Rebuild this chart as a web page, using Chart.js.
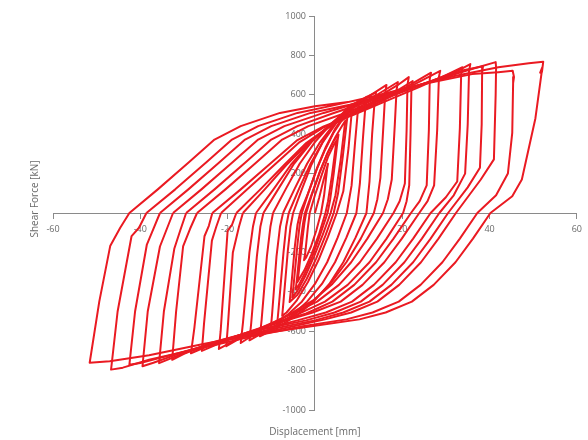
<!DOCTYPE html>
<html>
<head>
<meta charset="utf-8">
<script src="https://cdn.jsdelivr.net/npm/chart.js@4.4.1/dist/chart.umd.min.js"></script>
<style>
  html, body { margin: 0; padding: 0; background: #ffffff; }
  #wrap { width: 588px; height: 440px; }
</style>
</head>
<body>
<div id="wrap"><canvas id="chart" width="588" height="440"></canvas></div>
<script>
// Cyclic test record: displacement [mm], shear force [kN], one array per cycle.
const cycle01 = [[0,0],[1.0,80],[2.0,170],[2.8,235],[3.0,250],[2.8,225],[2.1,90],[1.4,0],[0.3,-90],[-0.9,-170],[-2.0,-225],[-2.5,-240],[-2.2,-200],[-1.6,-70],[-1.2,0]];
const cycle02 = [[-1.2,0],[0,90],[1.5,190],[3.0,285],[4.3,345],[5.0,370],[4.8,345],[3.9,190],[3.0,60],[2.4,0],[0.9,-110],[-0.8,-210],[-2.4,-290],[-3.6,-335],[-4.0,-350],[-3.7,-300],[-2.8,-120],[-2.4,-50],[-2.0,0]];
const cycle03 = [[-2.0,0],[-0.6,100],[1.0,200],[2.8,300],[4.4,370],[5.4,398],[5.2,370],[4.3,200],[3.5,70],[2.9,0],[1.2,-110],[-0.6,-220],[-2.4,-310],[-3.8,-370],[-4.4,-388],[-4.1,-330],[-3.2,-130],[-2.7,-50],[-2.3,0]];
const cycle04 = [[-2.3,0],[-0.5,110],[1.2,215],[3,310],[4.8,390],[6.3,445],[7.0,470],[6.8,440],[5.9,270],[4.7,90],[3.6,0],[1.8,-110],[-0.2,-220],[-2.2,-320],[-4.0,-395],[-5.2,-430],[-4.9,-370],[-4.0,-160],[-3.5,-60],[-3.0,0]];
const cycle05 = [[-3.0,0],[-1.4,110],[0.4,220],[2.3,320],[4.2,405],[6.0,465],[7.5,495],[7.3,465],[6.4,290],[5.3,100],[4.3,0],[2.4,-115],[0.3,-230],[-1.9,-335],[-4.0,-415],[-5.8,-452],[-5.5,-390],[-4.6,-170],[-4.0,-60],[-3.4,0]];
const cycle06 = [[-3.4,0],[-1.3,115],[0.5,230],[2.5,335],[4.7,430],[7,505],[8.7,540],[8.4,505],[7.7,330],[6.5,110],[5.0,0],[3,-120],[0.8,-240],[-1.6,-350],[-4.2,-445],[-6.5,-505],[-7.5,-522],[-7.2,-450],[-6.2,-190],[-5.6,-70],[-5.0,0]];
const cycle07 = [[-5.0,0],[-3.0,120],[-0.8,245],[1.8,360],[4.5,460],[7.5,535],[10.2,570],[9.9,535],[9.2,360],[8.4,140],[7.3,0],[5.2,-125],[2.8,-250],[0,-360],[-3,-450],[-6.2,-515],[-8.6,-552],[-8.3,-480],[-7.2,-200],[-6.6,-70],[-6.0,0]];
const cycle08 = [[-6.0,0],[-3.6,125],[-1.0,250],[1.8,360],[5,460],[8.5,545],[11.9,590],[11.6,555],[11.0,380],[10.3,150],[9.5,0],[7.2,-125],[4.6,-250],[1.6,-360],[-1.8,-450],[-5.6,-525],[-8.6,-570],[-10.1,-586],[-9.8,-510],[-8.8,-220],[-8.0,-70],[-7.3,0]];
const cycle09 = [[-7.3,0],[-4.6,125],[-1.8,250],[1.2,360],[4.5,455],[8.2,535],[11.5,585],[14.0,612],[13.7,575],[13.1,400],[12.5,160],[11.8,0],[9.3,-125],[6.5,-250],[3.3,-360],[-0.3,-450],[-4.5,-525],[-9,-585],[-12.6,-626],[-12.2,-540],[-11.0,-220],[-10.2,-70],[-9.6,0]];
const cycle10 = [[-9.6,0],[-6.6,125],[-3.5,250],[0,360],[3.8,455],[8,535],[12.5,595],[16.4,650],[16.1,610],[15.7,450],[15.0,180],[14.3,70],[13.5,0],[10.5,-130],[7.2,-250],[3.5,-360],[-0.5,-450],[-5,-520],[-10.5,-590],[-15.0,-646],[-14.6,-560],[-13.3,-220],[-12.5,-70],[-11.8,0]];
const cycle11 = [[-11.8,0],[-8.3,125],[-4.8,250],[-0.8,360],[3.5,450],[8.5,530],[13.5,590],[19.0,665],[18.7,625],[18.3,450],[17.6,170],[16.7,70],[15.6,0],[12,-130],[8.3,-250],[4,-360],[-0.5,-445],[-5.5,-510],[-11,-575],[-17.0,-660],[-16.5,-560],[-15,-200],[-14.2,-70],[-13.5,0]];
const cycle12 = [[-13.5,0],[-9.5,120],[-5.5,245],[-1.2,355],[3.5,445],[9,525],[14.5,590],[19,650],[21.5,690],[21.2,650],[21.0,420],[20.6,150],[19.4,60],[18.0,0],[14.2,-130],[10.3,-250],[5.5,-365],[0.5,-450],[-5.5,-515],[-12,-580],[-17.5,-640],[-20.3,-676],[-19.9,-560],[-18.8,-200],[-17.4,-70],[-16.5,0]];
const cycle13 = [[-16.5,0],[-11.5,120],[-6.5,245],[-1.5,355],[3.5,440],[9,515],[15,585],[19.5,630],[22.4,670],[22.1,630],[21.9,400],[21.6,140],[21.0,60],[20.2,0],[16.4,-130],[12.5,-250],[7.5,-365],[2.3,-450],[-4,-515],[-11,-575],[-17,-630],[-22.0,-690],[-21.6,-600],[-20.0,-90],[-19.0,-60],[-18.0,0]];
const cycle14 = [[-18.0,0],[-12.5,120],[-7,245],[-2,355],[3,435],[9,510],[15,575],[21,640],[26.6,712],[26.3,680],[26.1,420],[25.6,140],[24.0,60],[22.0,0],[18,-130],[14,-250],[9,-365],[4,-450],[-2,-510],[-10,-565],[-18,-625],[-25.9,-700],[-25.4,-560],[-23.6,-140],[-22.6,-70],[-21.5,0]];
const cycle15 = [[-21.5,0],[-15.5,120],[-9,250],[-3.5,360],[2,435],[9,505],[16,575],[23,655],[28.7,722],[28.4,690],[28.0,420],[27.3,140],[25.8,60],[23.9,0],[19.9,-130],[15.9,-250],[10.9,-365],[5.9,-450],[-0.5,-505],[-8,-555],[-16,-610],[-24,-670],[-28.4,-712],[-27.6,-580],[-25.3,-118],[-24.3,-65],[-23.5,0]];
const cycle16 = [[-23.5,0],[-17,120],[-10,255],[-4,370],[2,440],[9,500],[16,565],[24,640],[30,700],[33.8,740],[33.5,705],[33.2,430],[32.6,160],[30,80],[26.5,0],[22.5,-130],[18.5,-250],[13.5,-365],[8.5,-450],[2.5,-505],[-4,-545],[-14,-600],[-24,-660],[-30,-715],[-32.7,-745],[-31.8,-500],[-30.2,-170],[-28.6,-80],[-27,0]];
const cycle17 = [[-27,0],[-20.5,120],[-13.5,255],[-7.5,373],[-1.5,441],[6,500],[14,565],[22,630],[29,690],[33,725],[35.6,756],[35.3,720],[35.0,450],[34.4,200],[31.8,90],[28.5,0],[24.5,-130],[20.5,-250],[15.5,-365],[10.5,-450],[4.5,-505],[-2,-545],[-12,-590],[-22,-650],[-31,-720],[-35.7,-762],[-34.6,-500],[-32.2,-180],[-30.8,-85],[-29.5,0]];
const cycle18 = [[-29.5,0],[-23,120],[-16,255],[-10,373],[-4,441],[4,505],[12,565],[20,620],[28,680],[34,725],[38.5,745],[38.3,715],[38.2,450],[37.8,230],[35,130],[30.5,0],[26.5,-130],[22.5,-250],[17.5,-365],[12.5,-450],[6.5,-505],[0,-545],[-10,-590],[-20,-640],[-30,-705],[-37,-760],[-39.5,-778],[-38.3,-500],[-35.5,-170],[-34,-85],[-32.5,0]];
const cycle19 = [[-32.5,0],[-26,120],[-19,255],[-13,373],[-7,441],[2,508],[10,560],[18,610],[27,670],[35,725],[41.4,766],[41.5,740],[41.4,600],[41.0,272],[38,170],[32.3,0],[28.3,-130],[24.3,-250],[19.3,-365],[14.3,-450],[8.3,-505],[2.3,-540],[-8,-590],[-20,-645],[-32,-715],[-40,-762],[-42.5,-770],[-41.2,-500],[-38.5,-160],[-37,-80],[-35.5,0]];
const cycle20 = [[-35.5,0],[-29,120],[-22,255],[-16,373],[-10,441],[-1,508],[8,550],[16,600],[26,660],[36,705],[42,715],[45.3,722],[45.6,690],[45.4,660],[45.2,407],[44.2,200],[41.5,90],[37.2,0],[33.2,-130],[29.2,-250],[24.2,-365],[19.2,-450],[13.2,-505],[7.2,-540],[-2.8,-575],[-14,-625],[-26,-685],[-38,-745],[-44,-785],[-46.7,-795],[-45.2,-500],[-42,-117],[-40.3,-75],[-38.6,0]];
const cycle21 = [[-38.6,0],[-32,120],[-25,255],[-19,373],[-13,441],[-4,508],[4,545],[13,590],[22,640],[32,695],[42,740],[49,760],[52.3,768],[52.0,715],[51.6,712],[52.1,740],[50.5,480],[47.4,170],[45.2,85],[40.2,0],[36.2,-130],[32.2,-250],[27.2,-365],[22.2,-450],[16.2,-505],[10.2,-540],[0,-572],[-12,-612],[-25,-662],[-38,-722],[-47,-752],[-51.6,-760],[-49.4,-450],[-46.9,-168],[-44.6,-75],[-42.5,0],[-36,120],[-29,255],[-23,373],[-17,441],[-8,508],[0,542],[8,565]];

const cycles = [cycle01, cycle02, cycle03, cycle04, cycle05, cycle06, cycle07, cycle08, cycle09, cycle10, cycle11,
                cycle12, cycle13, cycle14, cycle15, cycle16, cycle17, cycle18, cycle19, cycle20, cycle21];

const xTitle = 'Displacement [mm]';
const yTitle = 'Shear Force [kN]';

const lineColor = '#ea1a22';
const axisColor = '#8a8a8a';
const textColor = '#6a6a6a';
const fontFamily = "'Open Sans', 'Liberation Sans', sans-serif";

// Vertical axis title, drawn at the far left of the canvas.
const sideTitle = {
  id: 'sideTitle',
  afterDraw(chart) {
    const ctx = chart.ctx;
    ctx.save();
    ctx.translate(35, 199);
    ctx.rotate(-Math.PI / 2);
    ctx.font = "10px " + fontFamily;
    ctx.fillStyle = textColor;
    ctx.textAlign = 'center';
    ctx.textBaseline = 'middle';
    ctx.fillText(yTitle, 0, 0);
    ctx.restore();
  }
};

new Chart(document.getElementById('chart'), {
  type: 'scatter',
  data: {
    datasets: cycles.map((pts, i) => ({
      label: 'Cycle ' + (i + 1),
      data: pts.map(([x, y]) => ({ x, y })),
      showLine: true,
      borderColor: lineColor,
      borderWidth: 2,
      borderJoinStyle: 'round',
      pointRadius: 0,
      tension: 0,
      fill: false
    }))
  },
  options: {
    responsive: false,
    animation: false,
    devicePixelRatio: 1,
    layout: { padding: { top: 16, right: 5, bottom: 0, left: 53 } },
    plugins: {
      legend: { display: false },
      tooltip: { enabled: false },
      title: {
        display: true, text: xTitle, position: 'bottom', fullSize: false,
        color: textColor, font: { family: fontFamily, size: 10, weight: 'normal' },
        padding: { top: 16, bottom: 2 }
      }
    },
    scales: {
      x: {
        type: 'linear', position: 'center', min: -60, max: 60,
        ticks: {
          stepSize: 20, color: textColor, padding: 6, maxRotation: 0,
          font: { family: fontFamily, size: 9 },
          callback: v => (v === 0 ? '' : v)
        },
        grid: { drawOnChartArea: false, tickLength: 5, color: axisColor },
        border: { display: true, color: axisColor, width: 1 }
      },
      y: {
        type: 'linear', position: 'center', min: -1000, max: 1000,
        ticks: {
          stepSize: 200, color: textColor, padding: 4,
          font: { family: fontFamily, size: 9 },
          callback: v => (v === 0 ? '' : v)
        },
        grid: { drawOnChartArea: false, tickLength: 5, color: axisColor },
        border: { display: true, color: axisColor, width: 1 }
      }
    }
  },
  plugins: [sideTitle]
});
</script>
</body>
</html>
